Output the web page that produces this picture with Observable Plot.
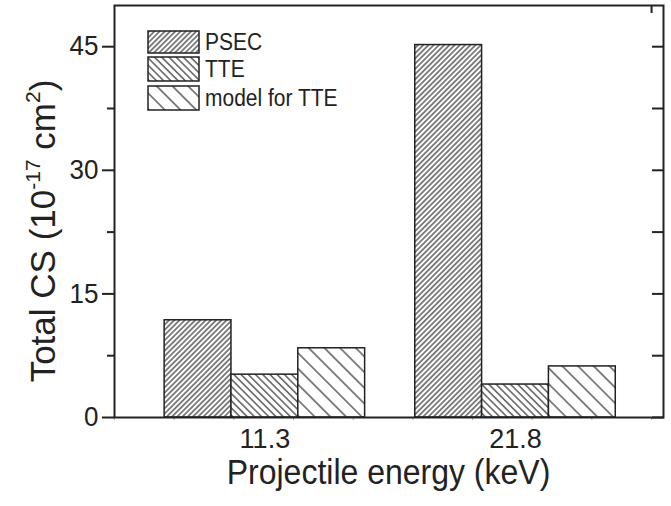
<!DOCTYPE html>
<html>
<head>
<meta charset="utf-8">
<script src="https://cdn.jsdelivr.net/npm/d3@7"></script>
<script src="https://cdn.jsdelivr.net/npm/@observablehq/plot@0.6"></script>
<style>
  html, body { margin: 0; padding: 0; background: #fff; }
  svg { font-family: "Liberation Sans", Arial, sans-serif; }
</style>
</head>
<body>
<div id="chart"></div>
<script>
// ---- data ----
const energies = [11.3, 21.8];               // projectile energy (keV)
const series = ["PSEC", "TTE", "model for TTE"];
const psec = [11.8, 45.2];
const tte = [5.2, 4.0];
const modelTTE = [8.4, 6.2];
const yTicks = [0, 15, 30, 45];
const yMinorTicks = [7.5, 22.5, 37.5];
const xTickLabels = ["11.3", "21.8"];

const values = [psec, tte, modelTTE];
const barWidth = 2.8; // in keV units
const rows = [];
energies.forEach((e, i) => {
  series.forEach((s, k) => {
    rows.push({energy: e, series: s, k, value: values[k][i]});
  });
});

const ink = "#222";
const font = "'Liberation Sans', Arial, sans-serif";
const stretch = 1.1;     // reference text is slightly taller than wide
const tickStretch = 1.05;

const svg = Plot.plot({
  width: 671,
  height: 506,
  marginLeft: 114,
  marginRight: 8,
  marginTop: 5,
  marginBottom: 89,
  style: {fontFamily: font, color: ink, background: "white"},
  x: {domain: [5, 28], axis: null, label: null},
  y: {domain: [0, 50], axis: null, label: null},
  color: {domain: series, range: ["url(#hatchPSEC)", "url(#hatchTTE)", "url(#hatchModel)"]},
  marks: [
    Plot.rectY(rows, {
      x1: d => d.energy + (d.k - 1) * barWidth - barWidth / 2,
      x2: d => d.energy + (d.k - 1) * barWidth + barWidth / 2,
      y1: 0,
      y2: "value",
      fill: "series",
      stroke: ink,
      strokeWidth: 1.5
    }),
    // left axis
    Plot.axisY({anchor: "left", label: null, ticks: yTicks, tickSize: 12, tickPadding: 4, fontSize: 26, stroke: ink, strokeWidth: 2, color: ink}),
    Plot.axisY({anchor: "left", label: null, ticks: yMinorTicks, tickSize: 7, text: null, stroke: ink, strokeWidth: 2}),
    // right axis (inward ticks)
    Plot.axisY({anchor: "right", label: null, ticks: yTicks.concat(yMinorTicks), tickSize: 12, insetRight: 12, text: null, stroke: ink, strokeWidth: 2}),
    // x axis minor ticks
    Plot.axisX({anchor: "bottom", label: null, ticks: d3.range(5, 28.01, 2.5), tickSize: 3, text: null, stroke: "#aaa", strokeWidth: 1}),
    Plot.axisX({anchor: "top", label: null, ticks: [27.5], tickSize: 7, insetTop: 7, text: null, stroke: ink, strokeWidth: 2}),
    // x tick labels
    Plot.axisX({anchor: "bottom", label: null, ticks: energies, tickSize: 0, tickPadding: 10, fontSize: 27, tickFormat: (d, i) => xTickLabels[i], color: ink}),
    Plot.frame({stroke: ink, strokeWidth: 2})
  ]
});

const root = d3.select(svg);

// stretch axis tick label text slightly in the vertical direction
root.selectAll("g[aria-label='y-axis tick label'] text, g[aria-label='x-axis tick label'] text").each(function() {
  const t = this.getAttribute("transform") || "";
  this.setAttribute("transform", `${t} scale(1,${tickStretch})`);
});

// hatch patterns
const defs = root.insert("defs", ":first-child");
function hatch(id, spacing, angle, w) {
  const p = defs.append("pattern")
    .attr("id", id)
    .attr("patternUnits", "userSpaceOnUse")
    .attr("width", spacing)
    .attr("height", spacing)
    .attr("patternTransform", `rotate(${angle})`);
  p.append("rect").attr("width", spacing).attr("height", spacing).attr("fill", "white");
  p.append("line")
    .attr("x1", spacing / 2).attr("y1", -1)
    .attr("x2", spacing / 2).attr("y2", spacing + 1)
    .attr("stroke", "#222").attr("stroke-width", w);
}
hatch("hatchPSEC", 3.7, 45, 1.1);
hatch("hatchTTE", 5.1, -45, 1.1);
hatch("hatchModel", 11.1, -45, 1.1);

// legend
const fills = ["url(#hatchPSEC)", "url(#hatchTTE)", "url(#hatchModel)"];
const legY = [31, 57, 86];
const legH = [22, 24, 24];
const lg = root.append("g")
  .attr("font-family", font).attr("font-size", 21).attr("fill", ink)
  .attr("text-anchor", "start");
series.forEach((s, k) => {
  lg.append("rect")
    .attr("x", 148).attr("y", legY[k]).attr("width", 51).attr("height", legH[k])
    .attr("fill", fills[k]).attr("stroke", ink).attr("stroke-width", 1.5);
  lg.append("text")
    .attr("transform", `translate(205,${legY[k] + legH[k] / 2 + 7.5}) scale(1,${stretch})`)
    .attr("text-anchor", "start")
    .text(s);
});

// axis titles
root.append("text")
  .attr("transform", `translate(388.5,484) scale(1,${stretch})`)
  .attr("text-anchor", "middle")
  .attr("font-family", font).attr("font-size", 32).attr("fill", ink)
  .text("Projectile energy (keV)");

const yt = root.append("text")
  .attr("transform", "translate(55,231) rotate(-90)")
  .attr("text-anchor", "middle")
  .attr("font-family", font).attr("font-size", 35).attr("fill", ink);
yt.append("tspan").text("Total CS (10");
yt.append("tspan").attr("font-size", 21).attr("dy", -15).text("-17");
yt.append("tspan").attr("dy", 15).text(" cm");
yt.append("tspan").attr("font-size", 21).attr("dy", -15).text("2");
yt.append("tspan").attr("dy", 15).text(")");

document.getElementById("chart").appendChild(svg);
</script>
</body>
</html>
